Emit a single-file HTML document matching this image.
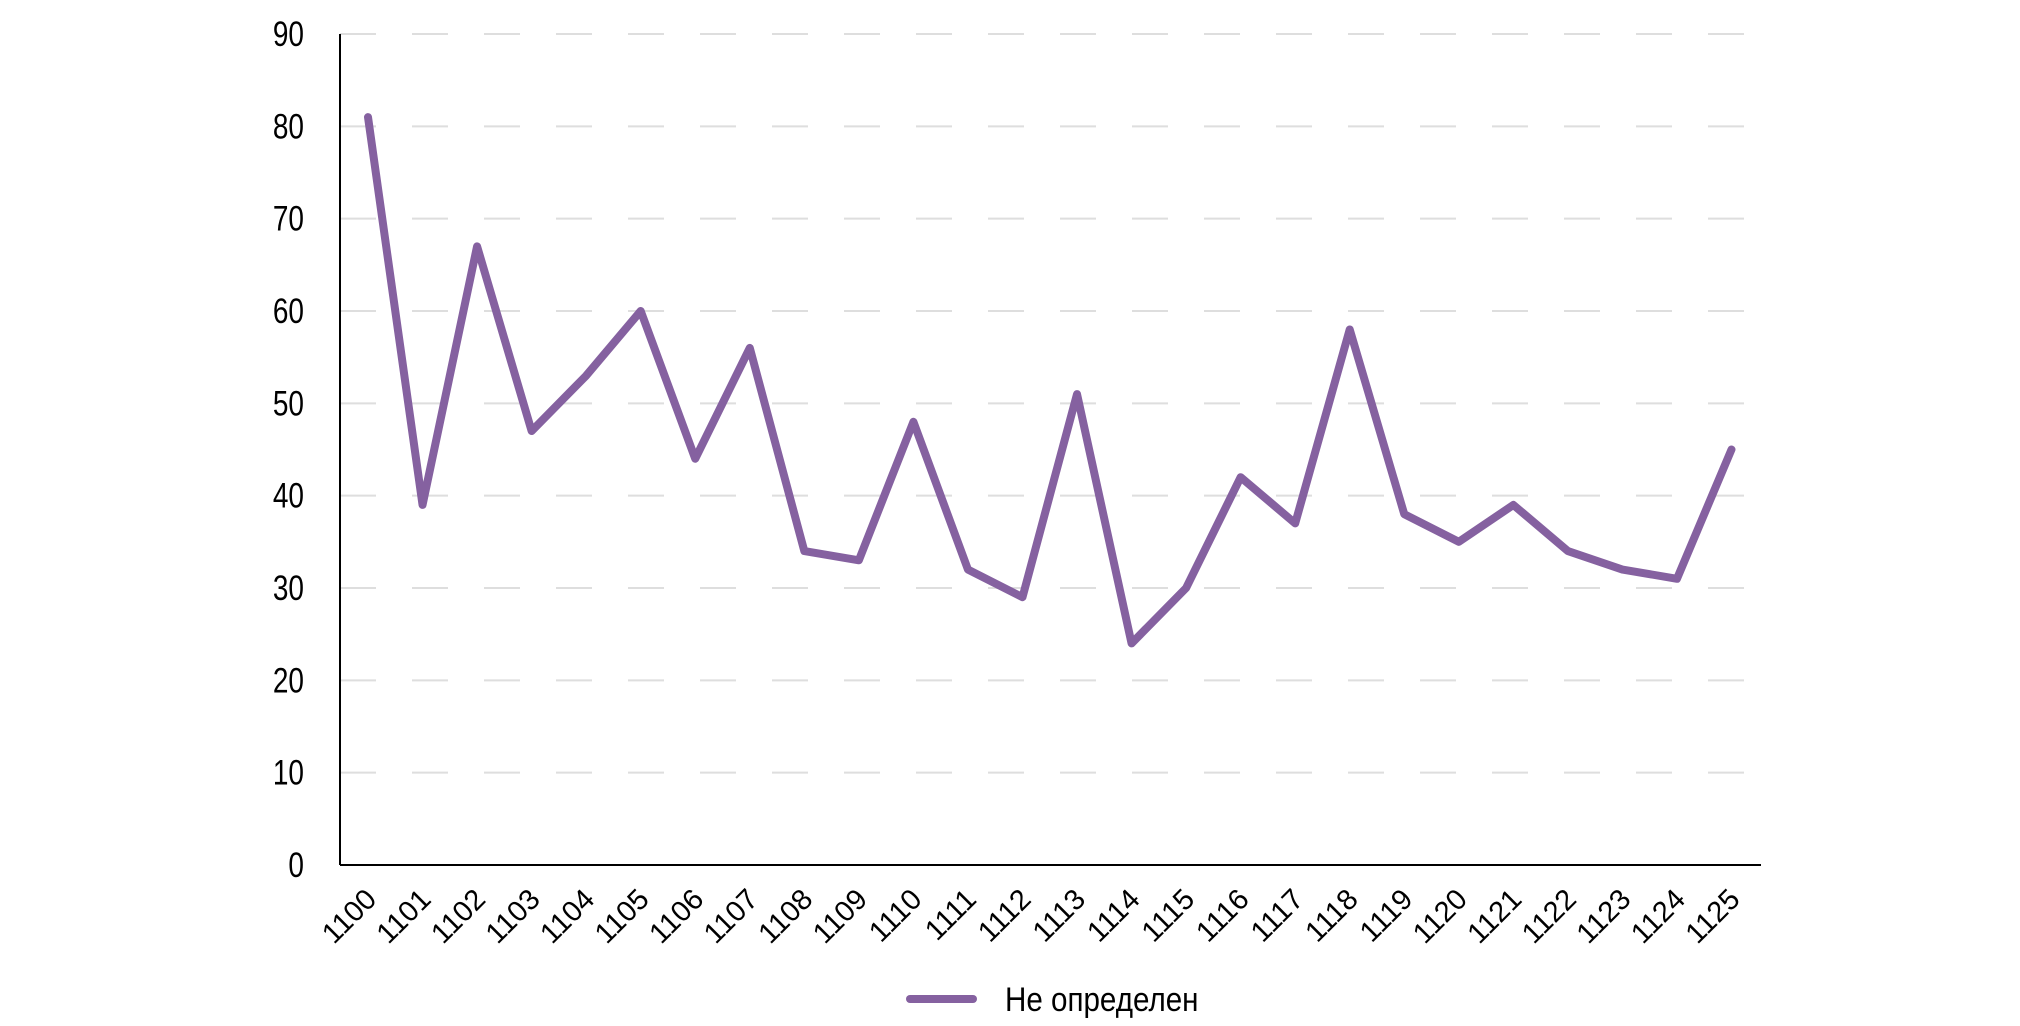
<!DOCTYPE html>
<html><head><meta charset="utf-8"><style>
html,body{margin:0;padding:0;background:#fff;}
svg{display:block;font-family:"Liberation Sans",sans-serif;}
</style></head><body>
<svg id="chart" width="2020" height="1026">
<g id="grid"></g><g id="yaxis"></g><g id="xaxis"></g><g id="series"></g>
<g>
<line x1="910" y1="999" x2="973" y2="999" stroke="#8561a0" stroke-width="8" stroke-linecap="round"/>
<text x="1005" y="1011" font-size="34" transform="translate(1005 0) scale(0.87 1) translate(-1005 0)" fill="#000">Не определен</text>
</g>
</svg>
<script>
const categories=["1100","1101","1102","1103","1104","1105","1106","1107","1108","1109","1110","1111","1112","1113","1114","1115","1116","1117","1118","1119","1120","1121","1122","1123","1124","1125"];
const values=[81,39,67,47,53,60,44,56,34,33,48,32,29,51,24,30,42,37,58,38,35,39,34,32,31,45];
const yTicks=[0,10,20,30,40,50,60,70,80,90];
const NS="http://www.w3.org/2000/svg";
const x0=368,dx=54.54,yTop=34,yBot=865,axL=340,axR=1761;
function xs(i){return x0+i*dx;}
function ys(v){return yBot-(v/90)*(yBot-yTop);}
function mk(t,a,p){const e=document.createElementNS(NS,t);for(const k in a)e.setAttribute(k,a[k]);p.appendChild(e);return e;}
const grid=document.getElementById('grid'),ya=document.getElementById('yaxis'),xa=document.getElementById('xaxis'),se=document.getElementById('series');
yTicks.forEach(v=>{
  if(v>0){const g=mk('line',{x1:axL,x2:axR,y1:ys(v),y2:ys(v),stroke:'#dedede','stroke-width':2,'stroke-dasharray':'36 36'},grid);
  
  }
  const t=mk('text',{x:0,y:0,'font-size':35,'text-anchor':'end',fill:'#000',transform:`translate(304 ${ys(v)+12}) scale(0.8 1)`},ya);
  t.textContent=v;
  
  
});
const yl=mk('line',{x1:axL,x2:axL,y1:yTop,y2:yBot,stroke:'#000','stroke-width':2},ya);


const xl=mk('line',{x1:axL,x2:axR,y1:yBot,y2:yBot,stroke:'#000','stroke-width':2},xa);


categories.forEach((c,i)=>{
  const t=mk('text',{x:0,y:0,'font-size':29,'text-anchor':'end',fill:'#000',transform:`translate(${xs(i)+10} ${yBot+36}) rotate(-45)`},xa);
  t.textContent=c;
  
  
});
const pl=mk('polyline',{points:values.map((v,i)=>xs(i)+','+ys(v)).join(' '),fill:'none',stroke:'#8561a0','stroke-width':8,'stroke-linejoin':'round','stroke-linecap':'round'},se);


</script>
</body></html>
